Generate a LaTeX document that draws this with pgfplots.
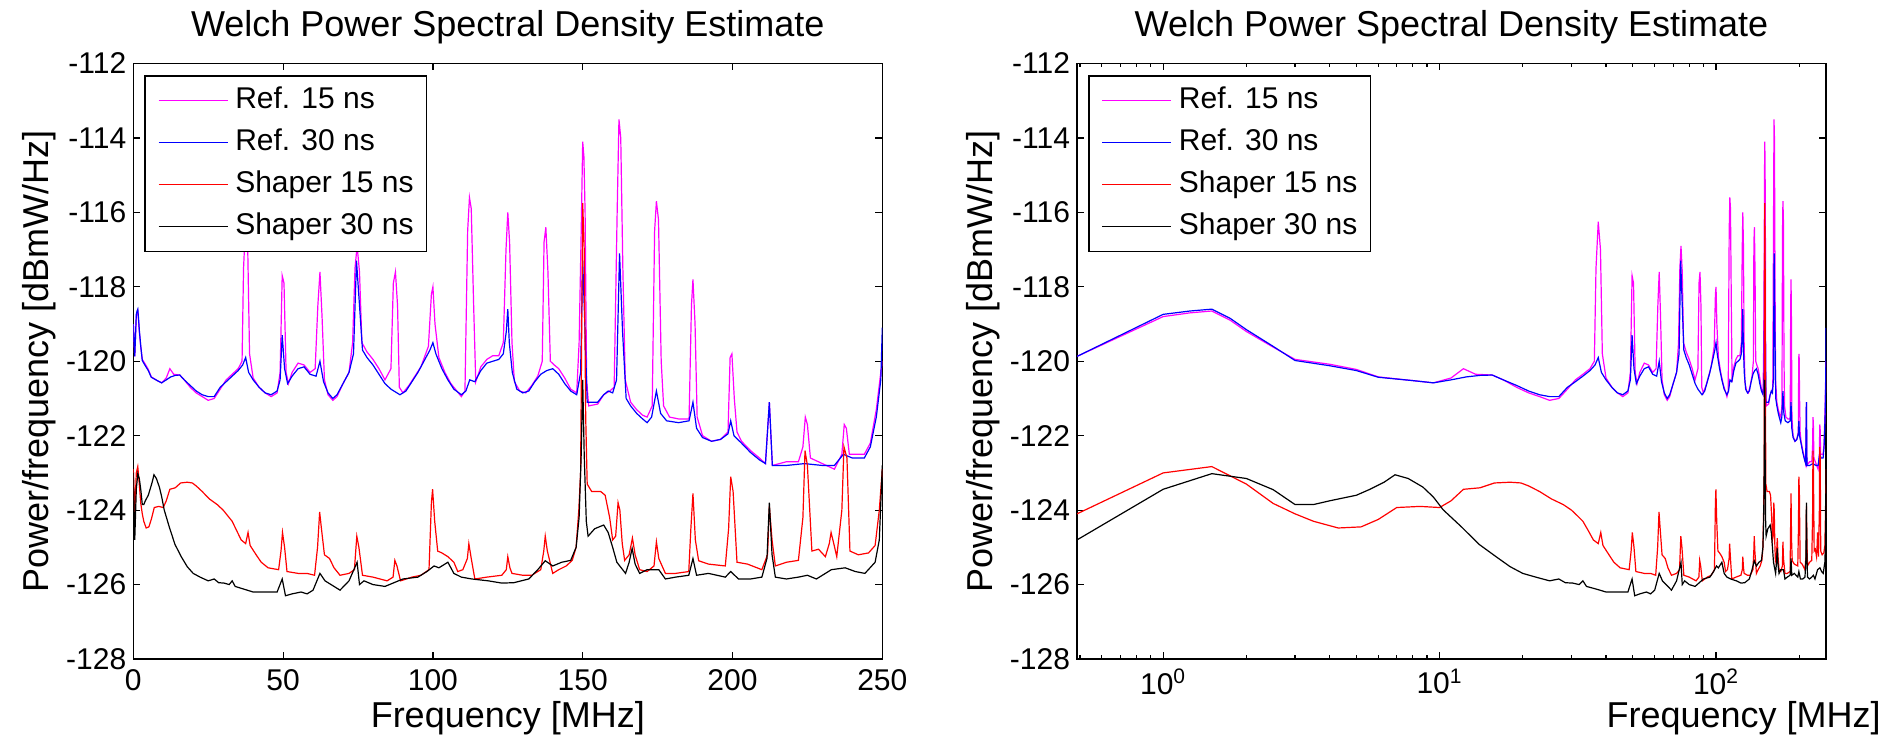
\documentclass[border=0pt]{standalone}
\usepackage{fontspec}
\setmainfont{Liberation Sans}
\usepackage{pgfplots}
\usepackage{pgfplotstable}
\pgfplotsset{compat=1.18}

\definecolor{mag}{RGB}{255,0,255}
\definecolor{blu}{RGB}{0,0,255}
\definecolor{rd}{RGB}{255,0,0}

% Ref. 15 ns
\pgfplotstableread{
x y
0 -119.0
0.488 -119.87
1.0 -118.8
1.25 -118.7
1.5 -118.65
1.75 -118.9
2.0 -119.2
2.5 -119.62
3.0 -119.95
4.0 -120.08
5.0 -120.22
6.0 -120.42
8.0 -120.52
9.5 -120.58
11 -120.45
12.2 -120.2
13.5 -120.35
15.5 -120.37
17 -120.5
19 -120.7
21 -120.85
23 -120.95
25 -121.05
27 -121.0
29 -120.75
31 -120.5
33 -120.35
35 -120.2
36.3 -120.0
36.8 -117.5
37.5 -116.25
38.2 -117.0
38.8 -119.8
40 -120.45
42 -120.7
44 -120.85
46 -120.95
48 -120.85
49 -120.3
49.7 -117.7
50.3 -117.9
51 -120.3
51.8 -120.6
53 -120.3
55 -120.05
57 -120.1
59 -120.3
60.7 -120.2
61.6 -118.5
62.3 -117.6
63 -118.8
63.8 -120.5
65 -120.9
66.6 -121.05
68 -120.95
70 -120.6
72 -120.3
73.2 -119.5
74 -117.5
74.7 -116.9
75.5 -117.6
76.3 -119.5
78 -119.75
80 -119.95
82 -120.2
84 -120.5
86 -120.2
86.8 -117.9
87.5 -117.6
88.2 -118.5
88.8 -120.7
90 -120.85
92 -120.65
94 -120.4
96 -120.15
98.5 -119.6
99.5 -118.2
100 -118.0
100.7 -119.0
102 -119.9
104 -120.3
106 -120.6
108 -120.8
109.5 -120.95
110.7 -120.8
111.6 -116.5
112.2 -115.6
112.8 -115.9
113.6 -118.5
114.3 -120.55
116 -120.15
118 -119.95
120 -119.85
122 -119.85
123.5 -119.5
124.4 -117.0
125 -116.0
125.6 -116.8
126.4 -119.5
127.2 -120.55
129 -120.8
131 -120.85
133 -120.65
135 -120.4
136.5 -120.0
137.1 -116.8
137.7 -116.4
138.4 -117.6
139.2 -120.0
140.5 -120.1
142 -120.2
144 -120.45
146 -120.75
148 -120.85
148.8 -119.5
149.5 -116.5
150 -114.1
150.4 -114.5
150.8 -116.0
151.3 -120.5
152 -121.2
155 -121.15
157 -120.9
159 -120.8
160.5 -120.7
161.5 -116.0
162.1 -113.5
162.7 -114.0
163.4 -117.5
164.2 -120.5
166 -121.1
168 -121.3
170 -121.45
171.5 -121.5
173.2 -121.2
174 -116.5
174.6 -115.7
175.3 -116.2
176.2 -120.0
177 -121.2
179 -121.5
182 -121.55
185.5 -121.55
186.3 -118.5
186.8 -117.8
187.5 -119.0
188.2 -121.5
190 -122.0
193 -122.15
196 -122.1
198.5 -121.9
199.2 -119.9
199.8 -119.8
200.6 -121.0
201.5 -121.9
203 -122.15
206 -122.4
209 -122.6
211 -122.75
212.3 -121.1
213.3 -122.8
218 -122.7
222 -122.7
223.5 -122.3
224.3 -121.5
225 -121.7
226 -122.6
230 -122.75
234 -122.9
236.5 -122.5
237.3 -121.7
238 -121.8
239 -122.5
244 -122.5
246 -122.2
248 -121.3
249.5 -120.3
250 -120.0
}\refA

% Ref. 30 ns
\pgfplotstableread{
x y
0 -119.0
0.488 -119.87
1.0 -118.74
1.25 -118.65
1.5 -118.6
1.75 -118.85
2.0 -119.15
2.5 -119.6
3.0 -119.98
4.0 -120.12
5.0 -120.25
6.0 -120.43
8.0 -120.52
9.5 -120.58
11 -120.5
12.5 -120.42
14 -120.38
15.5 -120.37
17 -120.5
19 -120.65
21 -120.8
23 -120.9
25 -120.95
27 -120.95
29 -120.7
31 -120.55
33 -120.4
35 -120.25
36.5 -120.1
37.5 -119.9
38.5 -120.3
40 -120.5
42 -120.7
44 -120.85
46 -120.9
48 -120.8
49 -120.5
49.7 -119.3
50.5 -120.2
51.5 -120.6
53 -120.4
55 -120.2
57 -120.15
59 -120.35
61 -120.4
62.3 -120.0
63.5 -120.55
65 -120.85
66.6 -121.0
68 -120.9
70 -120.6
72 -120.3
73.5 -119.8
74.5 -117.3
75.5 -118.5
76.5 -119.7
78 -119.9
80 -120.1
82 -120.35
84 -120.6
86 -120.75
88 -120.85
89 -120.9
91 -120.8
93 -120.55
95 -120.3
97 -120.0
99 -119.7
100 -119.5
101 -119.8
103 -120.2
105 -120.5
107 -120.75
109.5 -120.9
111 -120.8
112.3 -120.5
114 -120.55
116 -120.25
118 -120.05
120 -120.0
122 -119.95
123.5 -119.8
124.5 -119.2
125 -118.6
125.5 -119.5
126.5 -120.3
128 -120.75
130 -120.85
132 -120.8
134 -120.55
136 -120.35
138 -120.25
140 -120.2
142 -120.35
144 -120.6
146 -120.8
148 -120.9
149.3 -120.3
150 -117.3
150.7 -119.0
151.5 -121.1
155 -121.1
157 -120.9
158.5 -120.8
160 -120.85
161.3 -120.5
162.3 -117.1
163.3 -119.2
164.5 -121.0
166 -121.2
168 -121.4
170 -121.55
171.5 -121.65
173 -121.5
174.6 -120.8
176 -121.4
178 -121.6
182 -121.65
185.5 -121.6
186.8 -121.1
188 -121.8
190 -122.05
193 -122.15
196 -122.1
198.5 -121.95
199.4 -121.6
200.5 -122.0
203 -122.2
206 -122.45
209 -122.65
211 -122.75
212.3 -121.1
213.3 -122.8
218 -122.8
224 -122.75
230 -122.8
234 -122.8
237 -122.5
240 -122.6
244 -122.6
246 -122.3
248 -121.5
249.5 -120.5
250 -119.1
}\refB

% Shaper 15 ns
\pgfplotstableread{
x y
0 -122.9
0.488 -124.1
1.0 -123.0
1.5 -122.83
2.0 -123.3
2.5 -123.82
3.0 -124.1
3.5 -124.3
4.3 -124.48
5.2 -124.45
6.0 -124.25
7.0 -123.93
8.5 -123.9
10 -123.93
11 -123.75
12.2 -123.44
14 -123.4
15.8 -123.27
18 -123.25
19.7 -123.27
21 -123.35
23 -123.5
25.4 -123.7
28 -123.85
30 -124.0
31.5 -124.15
33 -124.3
34.5 -124.55
36 -124.8
37.5 -124.9
38.3 -124.6
39 -124.95
41 -125.2
42.7 -125.4
45 -125.55
48.5 -125.6
49.3 -125.1
49.8 -124.6
50.5 -125.0
51.3 -125.65
55 -125.7
58 -125.7
60.5 -125.75
61.5 -125.0
62.2 -124.05
62.8 -124.5
63.8 -125.2
65.5 -125.3
67 -125.55
69 -125.75
72 -125.7
73.8 -125.6
74.6 -124.7
75.3 -125.0
76.5 -125.75
80 -125.8
84.7 -125.9
86.7 -125.8
87.3 -125.35
88 -125.5
89.2 -125.9
93 -125.8
96 -125.75
98.7 -125.6
99.5 -123.8
99.9 -123.44
100.6 -124.3
101.6 -125.1
103 -125.15
105 -125.25
107 -125.4
108.3 -125.65
110 -125.6
111.5 -125.3
112 -124.9
112.8 -125.3
114 -125.85
118 -125.8
123 -125.75
124.5 -125.6
125 -125.25
125.7 -125.55
126.4 -125.7
130 -125.75
133 -125.75
136 -125.6
137 -125.1
137.5 -124.7
138.2 -125.1
140 -125.7
142 -125.6
144.5 -125.5
146.5 -125.35
147.8 -125.0
148.7 -124.0
149.3 -123.0
150 -115.75
150.5 -117.0
151.0 -121.5
151.5 -123.3
153 -123.5
156 -123.5
157.5 -123.6
159 -124.2
160 -124.8
161 -124.7
161.8 -123.8
162.4 -124.0
163.2 -124.9
164 -125.35
165.5 -125.2
166.6 -124.75
167.5 -125.2
169 -125.6
171.5 -125.65
173.8 -125.5
174.6 -124.85
175.4 -125.3
177.6 -125.7
181 -125.7
185.4 -125.65
186.1 -124.5
186.8 -123.55
187.6 -124.8
188.7 -125.36
192 -125.45
197.6 -125.5
198.7 -124.5
199.4 -123.1
200.2 -123.5
201.5 -125.4
205 -125.45
209.8 -125.6
211.7 -125.2
212.3 -123.9
213.2 -124.8
214.3 -125.5
218 -125.4
222 -125.35
223.5 -124.2
224.2 -122.4
225 -122.8
226.5 -125.1
228.7 -125.05
231 -125.25
232.3 -124.9
232.9 -124.6
233.8 -124.9
234.8 -125.25
236.5 -124.0
237.2 -122.3
238.2 -122.6
239.2 -125.1
242 -125.2
245.4 -125.15
247.6 -124.95
249 -124.0
250 -122.9
}\shpA

% Shaper 30 ns
\pgfplotstableread{
x y
0 -123.0
0.488 -124.8
1.0 -123.44
1.5 -123.02
2.0 -123.15
2.5 -123.45
3.0 -123.85
3.5 -123.85
4.0 -123.75
5.0 -123.6
5.6 -123.44
6.3 -123.25
6.9 -123.05
7.7 -123.15
8.7 -123.38
9.5 -123.65
10.3 -123.99
12 -124.45
13.9 -124.92
16 -125.25
18 -125.52
20 -125.7
22.3 -125.8
25 -125.9
27 -125.85
28.5 -125.95
30.3 -125.96
32 -126.0
33 -125.9
34 -126.05
36 -126.1
38 -126.15
40 -126.2
44.5 -126.2
48 -126.2
49.7 -125.85
50.8 -126.3
53 -126.25
56 -126.2
58 -126.25
60 -126.15
62.3 -125.7
64 -125.9
66 -126.0
69 -126.15
72 -125.9
74.7 -125.4
75.5 -126.0
77 -125.9
80 -126.0
84 -126.05
87 -125.95
90 -125.85
95 -125.8
98 -125.65
100.4 -125.5
102 -125.55
105 -125.4
107 -125.7
109.5 -125.8
113 -125.85
118.5 -125.9
123 -125.96
127 -125.95
132 -125.85
135 -125.6
137.5 -125.36
140 -125.5
143 -125.4
146 -125.35
147.8 -125.0
148.8 -124.2
149.5 -122.5
150 -120.5
150.5 -122.5
151.2 -124.3
151.8 -124.7
154 -124.5
157 -124.4
158.5 -124.6
160 -125.0
161.4 -125.4
164.3 -125.7
165.5 -125.4
166.5 -125.03
167.5 -125.45
169 -125.7
171.5 -125.6
175.4 -125.6
177.6 -125.85
181 -125.8
185.4 -125.75
186.8 -125.3
188 -125.75
192 -125.7
197.6 -125.8
199.4 -125.65
202 -125.85
206 -125.85
209.8 -125.8
211.5 -125.3
212.3 -123.8
213.2 -125.2
214.3 -125.8
218 -125.85
222 -125.8
225 -125.75
228 -125.85
233 -125.6
237.6 -125.55
241 -125.65
244.2 -125.7
247.6 -125.4
249 -124.8
250 -122.8
}\shpB

\pgfplotsset{
  legend image code/.code={\draw[#1] (0pt,0pt) -- (34.5pt,0pt);},
  psd/.style={
    scale only axis,
    width=374.5pt, height=297.75pt,
    ymin=-128, ymax=-112,
    ytick={-128,-126,...,-112},
    tick align=inside,
    major tick length=3.5pt, minor tick length=2pt,
    axis line style={line width=0.75pt},
    every tick/.style={black, line width=0.6pt},
    tick label style={font=\fontsize{15}{18}\selectfont},
    /pgf/number format/assume math mode=true,
    xticklabel style={yshift=-1.5pt},
    title={Welch Power Spectral Density Estimate},
    % the default title style already shifts it up by 6pt
    title style={font=\fontsize{18}{21}\selectfont, at={(axis description cs:0.5,1.0244)}, anchor=base},
    xlabel={Frequency [MHz]},
    ylabel={Power/frequency [dBmW/Hz]},
    label style={font=\fontsize{18}{21}\selectfont},
    ylabel style={at={(axis description cs:-0.1135,0.5)}, anchor=base},
    legend cell align=left,
    legend style={at={(axis description cs:0,1)}, anchor=north west,
      xshift=5.5pt, yshift=-6pt, draw=black, line width=0.75pt, fill=white,
      font=\fontsize{15}{18}\selectfont,
      inner xsep=6.5pt, inner ysep=5pt, row sep=6.5pt, column sep=3.5pt,
      nodes={inner sep=0pt, text height=11pt, text depth=3.5pt}},
  },
}

\begin{document}
\begin{tikzpicture}
\path[use as bounding box] (0,0) rectangle (946.5pt,370pt);

\begin{axis}[psd,
  at={(66.65pt,40.5pt)}, anchor=south west,
  xmin=0, xmax=250, xtick={0,50,...,250},
  xlabel style={at={(axis description cs:0.5,-0.115)}, anchor=base},
]
\addplot[mag, line width=0.6pt] table {\refA};
\addplot[blu, line width=0.6pt] table {\refB};
\addplot[rd, line width=0.6pt] table {\shpA};
\addplot[black, line width=0.6pt] table {\shpB};
\legend{Ref. 15 ns, Ref. 30 ns, Shaper 15 ns, Shaper 30 ns}
\end{axis}

\begin{axis}[psd,
  at={(538.5pt,40.5pt)}, anchor=south west,
  xmode=log, xmin=0.488, xmax=250,
  xtick={1,10,100},
  xticklabels={10\textsuperscript{0},10\textsuperscript{1},10\textsuperscript{2}},
  minor xtick={0.5,0.6,0.7,0.8,0.9,2,3,4,5,6,7,8,9,20,30,40,50,60,70,80,90,200},
  xlabel style={at={(axis description cs:0.89,-0.115)}, anchor=base},
]
\addplot[mag, line width=0.6pt] table {\refA};
\addplot[blu, line width=0.6pt] table {\refB};
\addplot[rd, line width=0.6pt] table {\shpA};
\addplot[black, line width=0.6pt] table {\shpB};
\legend{Ref. 15 ns, Ref. 30 ns, Shaper 15 ns, Shaper 30 ns}
\end{axis}
\end{tikzpicture}
\end{document}
